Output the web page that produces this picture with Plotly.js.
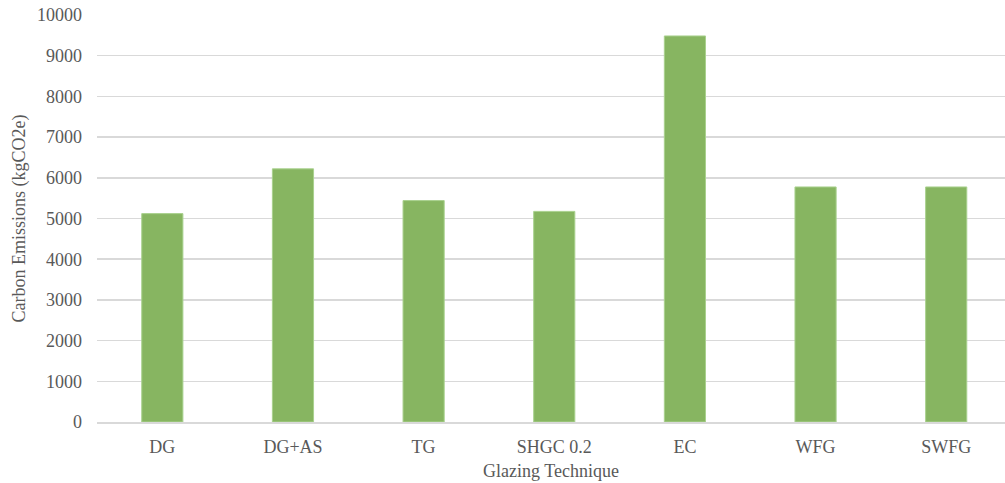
<!DOCTYPE html>
<html>
<head>
<meta charset="utf-8">
<script src="https://cdn.plot.ly/plotly-3.0.1.min.js"></script>
<style>html,body{margin:0;padding:0;background:#fff;}#chart{width:1005px;height:483px;}</style>
</head>
<body>
<div id="chart"></div>
<script>
const categories = ["DG", "DG+AS", "TG", "SHGC 0.2", "EC", "WFG", "SWFG"];
const emissions = [5120, 6220, 5440, 5175, 9485, 5775, 5775];
const yTicks = [0, 1000, 2000, 3000, 4000, 5000, 6000, 7000, 8000, 9000, 10000];

const font = {family: "Liberation Serif, Times New Roman, serif", color: "#595959", size: 18};

Plotly.newPlot("chart", [{
  type: "bar",
  x: categories,
  y: emissions,
  marker: {color: "#87b561", line: {color: "#a9d18e", width: 1}},
  hoverinfo: "x+y"
}], {
  width: 1005, height: 483,
  margin: {l: 97, r: 0, t: 15, b: 61},
  paper_bgcolor: "#fff", plot_bgcolor: "#fff",
  bargap: 0.685,
  showlegend: false,
  font: font,
  xaxis: {
    type: "category",
    range: [-0.5, 6.45],
    showgrid: false,
    showline: true, linecolor: "#d9d9d9", linewidth: 1.5,
    ticks: "", tickfont: font,
    ticklabelstandoff: 8,
    title: {text: "Glazing Technique", font: font, standoff: 8}
  },
  yaxis: {
    range: [0, 10000],
    tickvals: yTicks,
    ticktext: yTicks.map(String),
    showgrid: true, gridcolor: "#d9d9d9", gridwidth: 1.5,
    zeroline: false,
    showline: false,
    ticks: "", ticklen: 0,
    tickfont: font,
    ticklabelstandoff: 14,
    title: {text: "Carbon Emissions (kgCO2e)", font: font, standoff: 6}
  }
}, {displayModeBar: false, staticPlot: true});
</script>
</body>
</html>
